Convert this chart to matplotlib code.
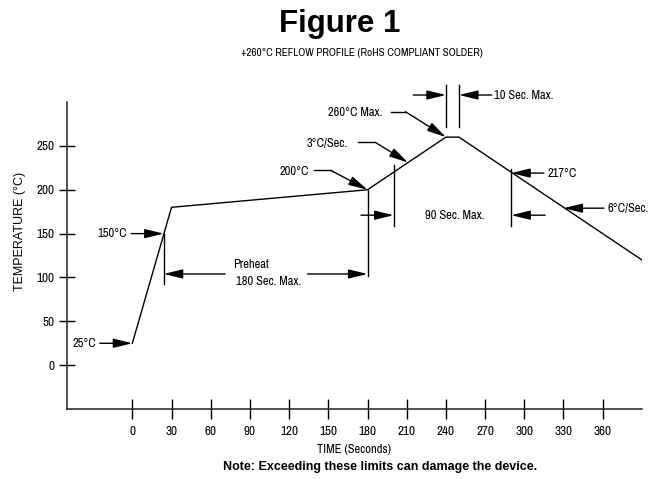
import matplotlib
matplotlib.use('Agg')
import matplotlib.pyplot as plt
from matplotlib import font_manager

# the reference uses a narrow sans, take one if there is one
estrecha = None
for f in font_manager.fontManager.ttflist:
    n = f.name.lower()
    if ('narrow' in n or 'condensed' in n) and f.weight in (400, 'normal', 'regular'):
        estrecha = f.name
        break
if estrecha:
    narrow = [estrecha, 'Liberation Sans', 'DejaVu Sans']
    fs = 9
else:
    narrow = ['Liberation Sans', 'DejaVu Sans']
    fs = 8
plt.rcParams['font.family'] = narrow

# reflow profile
tiempo = [0, 30, 180, 240, 250, 390]
temperatura = [25, 180, 200, 260, 260, 120]

xticks = [0, 30, 60, 90, 120, 150, 180, 210, 240, 270, 300, 330, 360]
yticks = [0, 50, 100, 150, 200, 250]

fig = plt.figure(figsize=(6.57, 4.79), dpi=100)
ax = fig.add_axes([0.102, 0.146, 0.875, 0.641])

ax.plot(tiempo, temperatura, color='black', lw=1)

ax.set_xlim(-50, 390)
ax.set_ylim(-50, 300)
ax.set_xticks(xticks)
ax.set_yticks(yticks)
ax.tick_params(axis='x', direction='inout', length=15, width=1, labelsize=fs + 0.5, pad=5)
ax.tick_params(axis='y', direction='inout', length=12, width=1, labelsize=fs + 0.5, pad=3)
for s in ['top', 'right']:
    ax.spines[s].set_visible(False)
for s in ['left', 'bottom']:
    ax.spines[s].set_linewidth(1.1)
    ax.spines[s].set_color('#222222')

ax.set_ylabel('TEMPERATURE (°C)', fontsize=9, family=['Liberation Sans', 'DejaVu Sans'])
ax.yaxis.set_label_coords(-0.072, 0.58)
ax.set_xlabel('TIME (Seconds)', fontsize=fs, labelpad=5)

flecha = dict(arrowstyle='-|>,head_length=1.15,head_width=0.28', color='black', lw=1,
              shrinkA=0, shrinkB=0, mutation_scale=10)


def arrow(x0, y0, x1, y1):
    ax.annotate('', xy=(x1, y1), xytext=(x0, y0), arrowprops=flecha, annotation_clip=False)


def linea(xs, ys):
    ax.plot(xs, ys, color='black', lw=1, clip_on=False)


# 25 C
ax.text(-28, 25, '25°C', ha='right', va='center', fontsize=fs)
arrow(-25, 25, 0, 25)

# 150 C
ax.text(-4, 150, '150°C', ha='right', va='center', fontsize=fs)
arrow(-1, 150, 24, 150)

# preheat
linea([24, 24], [150, 93])
linea([180, 180], [200, 102])
arrow(71, 104, 24, 104)
arrow(134, 104, 180, 104)
ax.text(77, 115, 'Preheat', ha='left', va='center', fontsize=fs)
ax.text(79, 95, '180 Sec. Max.', ha='left', va='center', fontsize=fs)

# 200 C
ax.text(135, 221, '200°C', ha='right', va='center', fontsize=fs)
linea([139, 152], [222, 222])
arrow(152, 222, 180, 200)

# 3 C/sec
ax.text(165, 253, '3°C/Sec.', ha='right', va='center', fontsize=fs)
linea([173, 186], [254, 254])
arrow(186, 254, 211, 231)

# 260 C max
ax.text(191, 288, '260°C Max.', ha='right', va='center', fontsize=fs)
linea([198, 209], [289, 289])
arrow(209, 289, 240, 260)

# 10 sec max
linea([240, 240], [272, 319])
linea([250, 250], [272, 319])
arrow(215, 308, 240, 308)
arrow(275, 308, 250, 308)
ax.text(277, 308, '10 Sec. Max.', ha='left', va='center', fontsize=fs)

# 90 sec max
linea([200, 200], [228, 159])
linea([290, 290], [224, 159])
arrow(175, 171, 200, 171)
arrow(316, 171, 290, 171)
ax.text(247, 171, '90 Sec. Max.', ha='center', va='center', fontsize=fs)

# 217 C
arrow(315, 219, 290, 219)
ax.text(318, 219, '217°C', ha='left', va='center', fontsize=fs)

# 6 C/sec
arrow(361, 179, 330, 179)
ax.text(364, 179, '6°C/Sec.', ha='left', va='center', fontsize=fs)

fig.text(0.517, 1 - 24 / 479, 'Figure 1', ha='center', va='center', fontsize=22.5,
         fontweight='bold', family=['Liberation Sans', 'DejaVu Sans'])
fig.text(0.551, 1 - 53 / 479, '+260°C REFLOW PROFILE (RoHS COMPLIANT SOLDER)',
         ha='center', va='center', fontsize=fs - 1.5 if estrecha is None else 8)
fig.text(0.579, 1 - 467 / 479, 'Note: Exceeding these limits can damage the device.',
         ha='center', va='center', fontsize=9, fontweight='bold',
         family=['Liberation Sans', 'DejaVu Sans'])

fig.savefig('out.png', dpi=100)
